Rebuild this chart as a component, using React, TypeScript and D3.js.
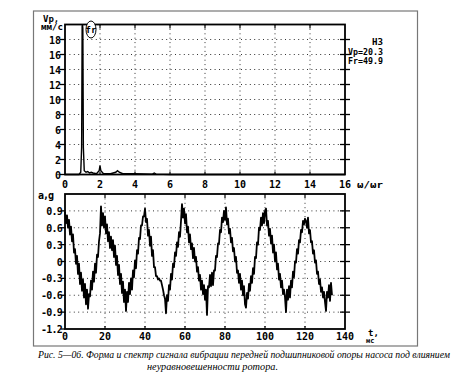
import React from 'react';
import * as d3 from 'd3';

// ---- Spectrum (top panel) ----
const specFreq = [0, 0.8, 0.9, 0.95, 0.98, 1.0, 1.02, 1.05, 1.1, 1.2, 1.3, 1.4, 1.5, 1.6, 1.8, 1.95, 2.0, 2.05, 2.2, 2.6, 2.9, 3.0, 3.1, 3.3, 4.0, 5.0, 5.1, 5.2, 6.0, 8.0, 10.0, 12.0, 14.0, 16.0];
const specAmp = [0, 0, 0.3, 3.6, 19.8, 20.0, 19.5, 3.6, 0.5, 0.3, 0.4, 0.2, 0.3, 0.2, 0.1, 0.5, 1.2, 0.5, 0.1, 0.1, 0.3, 0.5, 0.3, 0.1, 0.1, 0.05, 0.2, 0.05, 0, 0, 0, 0, 0, 0];
const topXTicks = [0, 2, 4, 6, 8, 10, 12, 14, 16];
const topYTicks = [0, 2, 4, 6, 8, 10, 12, 14, 16, 18];
const infoLines = ['H3', 'Vp=20.3', 'Fr=49.9'];

// ---- Waveform (bottom panel), one value every 0.5 ms ----
const waveStep = 0.5;
const waveValues = [
  0.88, 0.68, 0.82, 0.60, 0.74, 0.48, 0.62, 0.36, 0.48, 0.16,
  0.22, -0.04, 0.10, -0.22, -0.04, -0.40, -0.20, -0.52, -0.32, -0.64,
  -0.40, -0.76, -0.50, -0.84, -0.58, -0.62, -0.34, -0.50, -0.18, -0.36,
  -0.04, -0.20, 0.12, 0.08, 0.36, 0.50, 0.98, 0.64, 0.86, 0.60,
  0.80, 0.50, 0.66, 0.36, 0.52, 0.24, 0.44, 0.20, 0.38, 0.08,
  0.28, -0.06, 0.10, -0.24, -0.06, -0.40, -0.22, -0.56, -0.36, -0.72,
  -0.50, -0.88, -0.54, -0.72, -0.38, -0.58, -0.30, -0.50, -0.16, -0.28,
  0.02, -0.12, 0.20, 0.14, 0.42, 0.40, 0.64, 0.64, 0.80, 0.80,
  0.94, 0.70, 0.76, 0.46, 0.56, 0.28, 0.44, 0.10, 0.20, -0.10,
  -0.10, -0.26, -0.26, -0.32, -0.30, -0.34, -0.34, -0.42, -0.50, -0.60,
  -0.66, -0.92, -0.60, -0.70, -0.42, -0.50, -0.22, -0.32, -0.04, -0.10,
  0.16, 0.10, 0.34, 0.26, 0.52, 0.44, 0.72, 1.02, 0.78, 0.94,
  0.68, 0.84, 0.52, 0.62, 0.34, 0.48, 0.22, 0.32, 0.06, 0.24,
  0.00, 0.08, -0.18, -0.10, -0.34, -0.24, -0.50, -0.34, -0.58, -0.42,
  -0.68, -0.50, -0.95, -0.44, -0.46, -0.24, -0.44, -0.20, -0.42, -0.16,
  -0.16, 0.10, 0.08, 0.32, 0.32, 0.56, 0.52, 0.78, 0.70, 0.90,
  0.74, 0.96, 0.66, 0.76, 0.50, 0.58, 0.34, 0.42, 0.18, 0.24,
  0.00, 0.08, -0.20, -0.16, -0.38, -0.22, -0.50, -0.34, -0.60, -0.44,
  -0.76, -0.82, -0.56, -0.66, -0.40, -0.52, -0.26, -0.38, -0.12, -0.22,
  0.08, 0.06, 0.34, 0.30, 0.60, 0.56, 0.78, 0.64, 0.86, 0.68,
  0.90, 0.94, 0.64, 0.72, 0.46, 0.58, 0.32, 0.46, 0.16, 0.30,
  0.00, 0.16, -0.14, -0.04, -0.32, -0.22, -0.46, -0.34, -0.58, -0.50,
  -0.64, -0.90, -0.50, -0.68, -0.44, -0.64, -0.34, -0.46, -0.18, -0.28,
  0.00, -0.02, 0.22, 0.14, 0.38, 0.34, 0.56, 0.52, 0.72, 0.66,
  0.76, 0.72, 0.60, 0.78, 0.50, 0.56, 0.34, 0.36, 0.14, 0.20,
  -0.02, 0.02, -0.22, -0.18, -0.40, -0.32, -0.54, -0.46, -0.64, -0.54,
  -0.72, -0.88, -0.54, -0.64, -0.42, -0.70, -0.38, -0.60,
];
const botXTicks = [0, 20, 40, 60, 80, 100, 120, 140];
const botYTicks = [0.9, 0.6, 0.3, 0, -0.3, -0.6, -0.9, -1.2];
const botYLabels = ['0.9', '0.6', '0.3', '0', '-0.3', '-0.6', '-0.9', '-1.2'];

const caption1 = 'Рис. 5—06. Форма и спектр сигнала вибрации передней подшипниковой опоры насоса под влиянием';
const caption2 = 'неуравновешенности ротора.';

const MONO = '"DejaVu Sans Mono", "Liberation Mono", monospace';
const SERIF = '"Liberation Serif", "DejaVu Serif", serif';

export default function App() {
  const L = 65, R = 345;
  const xTop = d3.scaleLinear().domain([0, 16]).range([L, R]);
  const yTop = d3.scaleLinear().domain([0, 20]).range([174.5, 24.5]);
  const xBot = d3.scaleLinear().domain([0, 140]).range([L, R]);
  const yBot = d3.scaleLinear().domain([-1.2, 1.2]).range([329, 194]);

  const specLine = d3.line<number>()
    .x((_, i) => xTop(specFreq[i]))
    .y((d) => yTop(d))(specAmp) || '';
  const waveLine = d3.line<number>()
    .x((_, i) => xBot(i * waveStep))
    .y((d) => yBot(d))(waveValues) || '';

  const dot = { stroke: '#333', strokeWidth: 1, strokeDasharray: '1,3.4' };

  return (
    <svg width={464} height={381} style={{ position: 'absolute', left: 0, top: 0, background: '#fff' }}>
      <rect x={0} y={0} width={464} height={381} fill="#fff" />
      {/* outer frame */}
      <rect x={33.5} y={11} width={384} height={335} fill="none" stroke="#777" strokeWidth={1.2} />

      {/* ===== TOP PANEL ===== */}
      {topYTicks.filter((v) => v > 0).map((v) => (
        <line key={'gy' + v} x1={L} x2={R} y1={yTop(v)} y2={yTop(v)} {...dot} />
      ))}
      {topXTicks.filter((v) => v > 0 && v < 16).map((v) => (
        <line key={'gx' + v} x1={xTop(v)} x2={xTop(v)} y1={yTop(20)} y2={yTop(0)} {...dot} />
      ))}
      {topYTicks.map((v) => (
        <g key={'ty' + v}>
          <line x1={L - 5} x2={L} y1={yTop(v)} y2={yTop(v)} stroke="#000" strokeWidth={1.3} />
          {v > 0 && <line x1={R - 5} x2={R + 5} y1={yTop(v)} y2={yTop(v)} stroke="#000" strokeWidth={1.3} />}
          <text x={L - 4} y={yTop(v) + 4} textAnchor="end" fontFamily={MONO} fontWeight="bold" fontSize={10}>{v}</text>
        </g>
      ))}
      {topXTicks.map((v) => (
        <g key={'tx' + v}>
          {v > 0 && v < 16 && <line x1={xTop(v)} x2={xTop(v)} y1={yTop(20)} y2={yTop(20) + 4} stroke="#000" strokeWidth={1.2} />}
          {v > 0 && v < 16 && <line x1={xTop(v)} x2={xTop(v)} y1={yTop(0)} y2={yTop(0) - 3} stroke="#000" strokeWidth={1.2} />}
          <text x={xTop(v)} y={188} textAnchor="middle" fontFamily={MONO} fontWeight="bold" fontSize={10}>{v}</text>
        </g>
      ))}
      <path d={specLine} fill="none" stroke="#000" strokeWidth={1.4} />
      <rect x={L} y={yTop(20)} width={R - L} height={yTop(0) - yTop(20)} fill="none" stroke="#000" strokeWidth={1.8} />
      <text x={43} y={22} fontFamily={MONO} fontWeight="bold" fontSize={9}>Vp,</text>
      <text x={41} y={30} fontFamily={MONO} fontWeight="bold" fontSize={8} textLength={22} lengthAdjust="spacingAndGlyphs">мм/с</text>
      <ellipse cx={91} cy={29.5} rx={5} ry={8.5} fill="#fff" stroke="#000" strokeWidth={1} />
      <text x={91} y={33} textAnchor="middle" fontFamily={MONO} fontWeight="bold" fontSize={9}>fr</text>
      {infoLines.map((s, i) => (
        <text key={s} x={383} y={45 + i * 9.5} textAnchor="end" fontFamily={MONO} fontWeight="bold" fontSize={9}
          textLength={i === 0 ? 11 : 35} lengthAdjust="spacingAndGlyphs">{s}</text>
      ))}
      <text x={357} y={188} fontFamily={MONO} fontWeight="bold" fontSize={9} textLength={26} lengthAdjust="spacingAndGlyphs">ω/ωr</text>

      {/* ===== BOTTOM PANEL ===== */}
      {botYTicks.filter((v) => v > -1.1).map((v) => (
        <line key={'bgy' + v} x1={L} x2={R} y1={yBot(v)} y2={yBot(v)} {...dot} />
      ))}
      {botXTicks.filter((v) => v > 0 && v < 140).map((v) => (
        <line key={'bgx' + v} x1={xBot(v)} x2={xBot(v)} y1={yBot(1.2)} y2={yBot(-1.2)} {...dot} />
      ))}
      {botYTicks.map((v, i) => (
        <g key={'by' + v}>
          <line x1={L - 4} x2={L} y1={yBot(v)} y2={yBot(v)} stroke="#000" strokeWidth={1.3} />
          {v > -1.1 && <line x1={R - 5} x2={R + 5} y1={yBot(v)} y2={yBot(v)} stroke="#000" strokeWidth={1.3} />}
          <text x={L - 3} y={yBot(v) + 4} textAnchor="end" fontFamily={MONO} fontWeight="bold" fontSize={10} letterSpacing={-0.8}>{botYLabels[i]}</text>
        </g>
      ))}
      {botXTicks.map((v) => (
        <g key={'bx' + v}>
          {v > 0 && v < 140 && <line x1={xBot(v)} x2={xBot(v)} y1={yBot(1.2)} y2={yBot(1.2) + 4} stroke="#000" strokeWidth={1.2} />}
          {v > 0 && v < 140 && <line x1={xBot(v)} x2={xBot(v)} y1={yBot(-1.2)} y2={yBot(-1.2) - 3} stroke="#000" strokeWidth={1.2} />}
          <text x={xBot(v)} y={340} textAnchor="middle" fontFamily={MONO} fontWeight="bold" fontSize={10}>{v}</text>
        </g>
      ))}
      <path d={waveLine} fill="none" stroke="#000" strokeWidth={1.8} strokeLinejoin="round" />
      <rect x={L} y={yBot(1.2)} width={R - L} height={yBot(-1.2) - yBot(1.2)} fill="none" stroke="#000" strokeWidth={1.8} />
      <text x={38} y={199} fontFamily={MONO} fontWeight="bold" fontSize={10} letterSpacing={-1}>a,g</text>
      <text x={368} y={336} fontFamily={MONO} fontWeight="bold" fontSize={9}>t,</text>
      <text x={366} y={343} fontFamily={MONO} fontWeight="bold" fontSize={7}>мс</text>

      {/* caption */}
      <text x={38} y={358} fontFamily={SERIF} fontStyle="italic" fontSize={10} textLength={412} lengthAdjust="spacingAndGlyphs">{caption1}</text>
      <text x={147} y={370} fontFamily={SERIF} fontStyle="italic" fontSize={10} textLength={131} lengthAdjust="spacingAndGlyphs">{caption2}</text>
    </svg>
  );
}
